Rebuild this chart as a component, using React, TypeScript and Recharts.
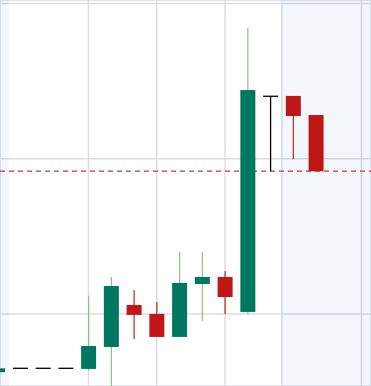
import { ComposedChart, Bar, XAxis, YAxis, CartesianGrid, ReferenceLine, ReferenceArea } from 'recharts';

// candle index and OHLC values
const candleIndex = [0, 1, 2, 3, 4, 5, 6, 7, 8, 9, 10, 11, 12, 13, 14];
const opens = [96.25, 96.5, 96.5, 96.5, 96.46, 97.87, 100.58, 100.0, 98.52, 101.93, 102.38, 100.13, 114.02, 114.04, 112.81];
const highs = [96.5, 96.5, 96.5, 96.5, 101.18, 102.38, 101.55, 100.77, 103.99, 103.99, 102.77, 118.42, 114.02, 114.04, 112.81];
const lows = [96.25, 96.5, 96.5, 96.5, 96.35, 95.2, 98.39, 98.52, 98.52, 99.55, 100.0, 100.0, 109.19, 109.98, 109.19];
const closes = [96.5, 96.5, 96.5, 96.5, 97.94, 101.8, 99.94, 98.52, 102.0, 102.38, 101.09, 114.42, 114.02, 112.75, 109.19];

const priceTicks = [100, 110, 120];
const timeTicks = [0.5, 4, 7, 10, 12.5, 16];
const lastPrice = 109.2;

const UP = '#007861';
const DOWN = '#bf1616';
const UP_WICK = '#8cc27c';
const DOWN_WICK = '#c2260f';
const GRID = '#dadee4';

const data = candleIndex.map((i, k) => ({
  i,
  open: opens[k],
  high: highs[k],
  low: lows[k],
  close: closes[k],
  range: [lows[k], highs[k]],
}));

const Candle = (props: any) => {
  const { x, y, width, height, payload } = props;
  const { open, close, high, low } = payload;
  const span = high - low;
  const toY = (v: number) => (span === 0 ? y : y + ((high - v) / span) * height);
  const cx = x + width / 2;
  if (open === close) {
    const yb = toY(open);
    return (
      <g>
        {span > 0 && <line x1={cx} x2={cx} y1={toY(high)} y2={toY(low)} stroke="#000" strokeWidth={1.3} />}
        <line x1={x} x2={x + width} y1={yb} y2={yb} stroke="#000" strokeWidth={1.3} />
      </g>
    );
  }
  const up = close > open;
  const top = toY(Math.max(open, close));
  const bottom = toY(Math.min(open, close));
  return (
    <g>
      <line x1={cx} x2={cx} y1={toY(high)} y2={toY(low)} stroke={up ? UP_WICK : DOWN_WICK} strokeWidth={1.2} />
      <rect x={x} y={top} width={width} height={Math.max(bottom - top, 1)} fill={up ? UP : DOWN} />
    </g>
  );
};

export default function App() {
  return (
    <div style={{ position: 'absolute', left: 0, top: 0, width: 371, height: 386, background: '#fff' }}>
      <ComposedChart width={371} height={386} data={data} margin={{ top: 0, right: 0, bottom: 0, left: 0 }}>
        <CartesianGrid stroke={GRID} strokeWidth={1.5} />
        <XAxis type="number" dataKey="i" domain={[0.11, 16.42]} ticks={timeTicks} allowDataOverflow hide />
        <YAxis type="number" domain={[95.36, 120.22]} ticks={priceTicks} allowDataOverflow hide />
        <ReferenceArea x1={0.11} x2={0.5} fill="#2f6eb5" fillOpacity={0.06} stroke="none" ifOverflow="hidden" />
        <ReferenceArea x1={12.5} x2={16.42} fill="#2f6eb5" fillOpacity={0.06} stroke="none" ifOverflow="hidden" />
        <ReferenceLine y={lastPrice} stroke="#b83c3e" strokeDasharray="5 4" strokeWidth={1.4} zIndex={250} />
        <Bar dataKey="range" barSize={15} shape={Candle} isAnimationActive={false} zIndex={600} />
      </ComposedChart>
    </div>
  );
}
